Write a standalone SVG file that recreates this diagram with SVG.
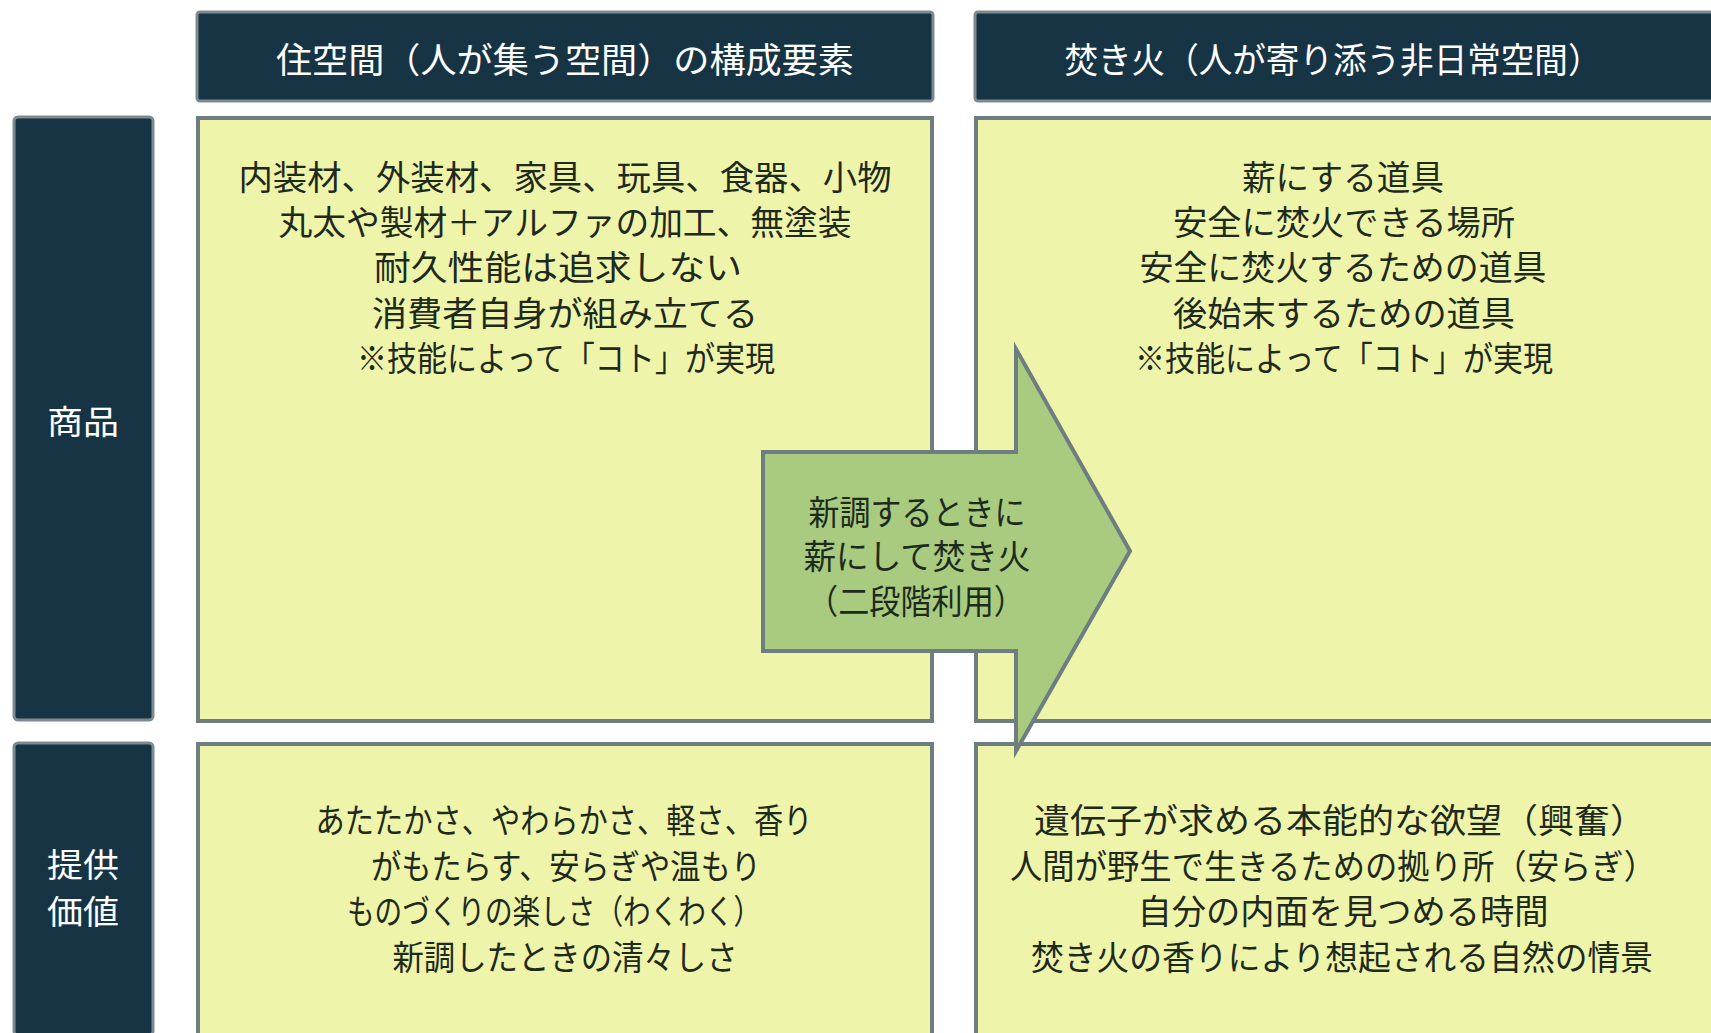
<svg xmlns="http://www.w3.org/2000/svg" width="1711" height="1033" viewBox="0 0 1711 1033">
<style>
.hdr{fill:#173445;stroke:#7d8b90;stroke-width:3}
.box{fill:#eef4aa;stroke:#6e7e80;stroke-width:4}
.ht{fill:#ffffff;font-family:"Noto Sans CJK JP","Noto Sans",sans-serif;font-size:35px;text-anchor:middle;dominant-baseline:central}
.lt{fill:#ffffff;font-family:"Noto Sans CJK JP","Noto Sans",sans-serif;font-size:33px;text-anchor:middle;dominant-baseline:central}
.bt{fill:#1e2a1c;font-family:"Noto Sans CJK JP","Noto Sans",sans-serif;font-size:34px;text-anchor:middle;dominant-baseline:central}
.arr{fill:#a8cb80;stroke:#6e7e80;stroke-width:4;stroke-linejoin:miter}
</style>
<rect x="0" y="0" width="1711" height="1033" fill="#ffffff"/>
<g id="header-left">
<rect class="hdr" x="197" y="12" width="736" height="89" rx="3"/>
<text class="ht" x="565" y="57" textLength="578" lengthAdjust="spacingAndGlyphs">住空間（人が集う空間）の構成要素</text>
</g>
<g id="header-right">
<rect class="hdr" x="975" y="12" width="740" height="89" rx="3"/>
<text class="ht" x="1333" y="57" textLength="537" lengthAdjust="spacingAndGlyphs">焚き火（人が寄り添う非日常空間）</text>
</g>
<g id="label-shohin">
<rect class="hdr" x="14" y="117" width="139" height="603" rx="4"/>
<text class="lt" x="83" y="420" textLength="72" lengthAdjust="spacingAndGlyphs">商品</text>
</g>
<g id="label-teikyo">
<rect class="hdr" x="14" y="743" width="139" height="292" rx="4"/>
<text class="lt" x="83" y="863" textLength="72" lengthAdjust="spacingAndGlyphs">提供</text>
<text class="lt" x="83" y="910" textLength="72" lengthAdjust="spacingAndGlyphs">価値</text>
</g>
<g id="box-top-left">
<rect class="box" x="198" y="118" width="734" height="603"/>
<text class="bt" x="565" y="175" textLength="653" lengthAdjust="spacingAndGlyphs">内装材、外装材、家具、玩具、食器、小物</text>
<text class="bt" x="565" y="220" textLength="573" lengthAdjust="spacingAndGlyphs">丸太や製材＋アルファの加工、無塗装</text>
<text class="bt" x="558" y="265" textLength="368" lengthAdjust="spacingAndGlyphs">耐久性能は追求しない</text>
<text class="bt" x="565" y="311" textLength="386" lengthAdjust="spacingAndGlyphs">消費者自身が組み立てる</text>
<text class="bt" x="566" y="356" textLength="418" lengthAdjust="spacingAndGlyphs">※技能によって「コト」が実現</text>
</g>
<g id="box-top-right">
<rect class="box" x="976" y="118" width="740" height="603"/>
<text class="bt" x="1343" y="175" textLength="202" lengthAdjust="spacingAndGlyphs">薪にする道具</text>
<text class="bt" x="1344" y="220" textLength="342" lengthAdjust="spacingAndGlyphs">安全に焚火できる場所</text>
<text class="bt" x="1343" y="265" textLength="407" lengthAdjust="spacingAndGlyphs">安全に焚火するための道具</text>
<text class="bt" x="1344" y="311" textLength="342" lengthAdjust="spacingAndGlyphs">後始末するための道具</text>
<text class="bt" x="1344" y="356" textLength="418" lengthAdjust="spacingAndGlyphs">※技能によって「コト」が実現</text>
</g>
<g id="box-bottom-left">
<rect class="box" x="198" y="744" width="734" height="292"/>
<text class="bt" x="564" y="818" textLength="497" lengthAdjust="spacingAndGlyphs">あたたかさ、やわらかさ、軽さ、香り</text>
<text class="bt" x="566" y="864" textLength="390" lengthAdjust="spacingAndGlyphs">がもたらす、安らぎや温もり</text>
<text class="bt" x="554" y="909" textLength="414" lengthAdjust="spacingAndGlyphs">ものづくりの楽しさ（わくわく）</text>
<text class="bt" x="565" y="955" textLength="345" lengthAdjust="spacingAndGlyphs">新調したときの清々しさ</text>
</g>
<g id="box-bottom-right">
<rect class="box" x="976" y="744" width="740" height="292"/>
<text class="bt" x="1340" y="818" textLength="612" lengthAdjust="spacingAndGlyphs">遺伝子が求める本能的な欲望（興奮）</text>
<text class="bt" x="1333" y="864" textLength="646" lengthAdjust="spacingAndGlyphs">人間が野生で生きるための拠り所（安らぎ）</text>
<text class="bt" x="1343" y="909" textLength="411" lengthAdjust="spacingAndGlyphs">自分の内面を見つめる時間</text>
<text class="bt" x="1342" y="955" textLength="622" lengthAdjust="spacingAndGlyphs">焚き火の香りにより想起される自然の情景</text>
</g>
<g id="connectors">
<g id="arrow-reuse">
<polygon class="arr" points="763,452 1016,452 1016,349 1130,551 1016,751 1016,651 763,651"/>
<text class="bt" x="917" y="510" textLength="217" lengthAdjust="spacingAndGlyphs">新調するときに</text>
<text class="bt" x="917" y="554" textLength="227" lengthAdjust="spacingAndGlyphs">薪にして焚き火</text>
<text class="bt" x="916" y="599" textLength="218" lengthAdjust="spacingAndGlyphs">（二段階利用）</text>
</g>
</g>
</svg>
